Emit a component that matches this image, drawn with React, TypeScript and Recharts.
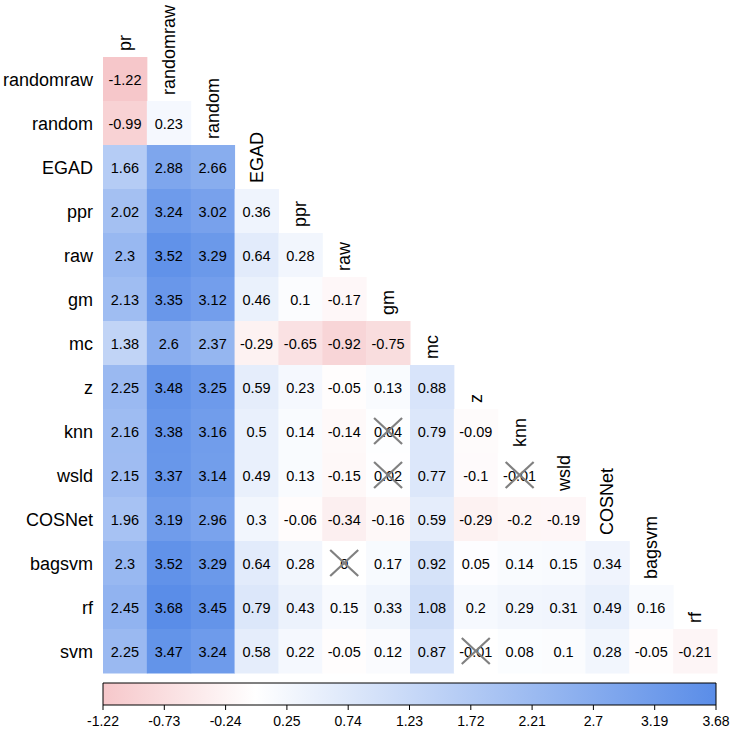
import React from 'react';
import { ScatterChart, Scatter, XAxis, YAxis, ReferenceArea } from 'recharts';

const ROWS = ['randomraw', 'random', 'EGAD', 'ppr', 'raw', 'gm', 'mc', 'z', 'knn', 'wsld', 'COSNet', 'bagsvm', 'rf', 'svm'];
const COLS = ['pr', 'randomraw', 'random', 'EGAD', 'ppr', 'raw', 'gm', 'mc', 'z', 'knn', 'wsld', 'COSNet', 'bagsvm', 'rf'];

const ROW_randomraw = [-1.22];
const ROW_random = [-0.99, 0.23];
const ROW_EGAD = [1.66, 2.88, 2.66];
const ROW_ppr = [2.02, 3.24, 3.02, 0.36];
const ROW_raw = [2.3, 3.52, 3.29, 0.64, 0.28];
const ROW_gm = [2.13, 3.35, 3.12, 0.46, 0.1, -0.17];
const ROW_mc = [1.38, 2.6, 2.37, -0.29, -0.65, -0.92, -0.75];
const ROW_z = [2.25, 3.48, 3.25, 0.59, 0.23, -0.05, 0.13, 0.88];
const ROW_knn = [2.16, 3.38, 3.16, 0.5, 0.14, -0.14, 0.04, 0.79, -0.09];
const ROW_wsld = [2.15, 3.37, 3.14, 0.49, 0.13, -0.15, 0.02, 0.77, -0.1, -0.01];
const ROW_COSNet = [1.96, 3.19, 2.96, 0.3, -0.06, -0.34, -0.16, 0.59, -0.29, -0.2, -0.19];
const ROW_bagsvm = [2.3, 3.52, 3.29, 0.64, 0.28, 0, 0.17, 0.92, 0.05, 0.14, 0.15, 0.34];
const ROW_rf = [2.45, 3.68, 3.45, 0.79, 0.43, 0.15, 0.33, 1.08, 0.2, 0.29, 0.31, 0.49, 0.16];
const ROW_svm = [2.25, 3.47, 3.24, 0.58, 0.22, -0.05, 0.12, 0.87, -0.01, 0.08, 0.1, 0.28, -0.05, -0.21];

const VALUES = [ROW_randomraw, ROW_random, ROW_EGAD, ROW_ppr, ROW_raw, ROW_gm, ROW_mc, ROW_z, ROW_knn, ROW_wsld, ROW_COSNet, ROW_bagsvm, ROW_rf, ROW_svm];

// [row, column] pairs marked as not significant
const NONSIG = [['knn', 'gm'], ['wsld', 'gm'], ['bagsvm', 'raw'], ['wsld', 'knn'], ['svm', 'z']];

const CB_TICKS = [-1.22, -0.73, -0.24, 0.25, 0.74, 1.23, 1.72, 2.21, 2.7, 3.19, 3.68];
const V_MIN = -1.22;
const V_MAX = 3.68;

const FONT = '"Liberation Sans", Arial, Helvetica, sans-serif';
const W = 733;
const MAIN_H = 680;
const M_TOP = 57;
const M_RIGHT = 16;
const M_BOTTOM = 7;
const Y_W = 103;
const PLOT_W = W - Y_W - M_RIGHT;
const PLOT_H = MAIN_H - M_TOP - M_BOTTOM;
const CELL_W = PLOT_W / COLS.length;
const CELL_H = PLOT_H / ROWS.length;

const LOW = [246, 199, 202];
const MID = [255, 255, 255];
const HIGH = [90, 141, 232];

function mix(a: number[], b: number[], t: number) {
  const c = a.map((v, i) => Math.round(v + (b[i] - v) * t));
  return `rgb(${c[0]},${c[1]},${c[2]})`;
}
function colorOf(v: number) {
  if (v < 0) return mix(MID, LOW, v / V_MIN);
  return mix(MID, HIGH, v / V_MAX);
}

const cellData: any[] = [];
VALUES.forEach((row, i) => {
  row.forEach((v, j) => {
    const ns = NONSIG.some(([r, c]) => r === ROWS[i] && c === COLS[j]);
    cellData.push({ x: j + 0.5, y: i + 0.5, v, ns });
  });
});

const colLabelData = COLS.map((name, j) => ({ x: j + 0.5, y: j, name }));
const cbData = CB_TICKS.map((t) => ({ x: t, y: 0.5 }));

const CellShape = (p: any) => {
  const { cx, cy, payload } = p;
  if (cx == null || cy == null) return <g />;
  return (
    <g>
      <rect x={cx - CELL_W / 2} y={cy - CELL_H / 2} width={CELL_W + 0.5} height={CELL_H + 0.5} fill={colorOf(payload.v)} />
      <text x={cx} y={cy + 1} textAnchor="middle" dominantBaseline="central" fontSize={14.5} fontFamily={FONT} fill="#000">
        {String(payload.v)}
      </text>
      {payload.ns && (
        <g stroke="#808080" strokeWidth={2.2}>
          <line x1={cx - 14} y1={cy - 13} x2={cx + 14} y2={cy + 13} />
          <line x1={cx - 14} y1={cy + 13} x2={cx + 14} y2={cy - 13} />
        </g>
      )}
    </g>
  );
};

const ColLabelShape = (p: any) => {
  const { cx, cy, payload } = p;
  if (cx == null || cy == null) return <g />;
  const y = cy - 6;
  return (
    <text x={cx} y={y} transform={`rotate(-90 ${cx} ${y})`} textAnchor="start" dominantBaseline="central" fontSize={18} fontFamily={FONT} fill="#000">
      {payload.name}
    </text>
  );
};

export default function App() {
  const rowTicks = ROWS.map((_, i) => i + 0.5);
  return (
    <div style={{ position: 'absolute', left: 0, top: 0, width: W, height: 741, background: '#fff', fontFamily: FONT }}>
      <div style={{ position: 'absolute', left: 0, top: 0 }}>
        <ScatterChart width={W} height={MAIN_H} margin={{ top: M_TOP, right: M_RIGHT, bottom: M_BOTTOM, left: 0 }}>
          <XAxis type="number" dataKey="x" domain={[0, COLS.length]} hide />
          <YAxis
            type="number"
            dataKey="y"
            domain={[0, ROWS.length]}
            reversed
            width={Y_W}
            ticks={rowTicks}
            interval={0}
            tickFormatter={(v: number) => ROWS[Math.floor(v)]}
            axisLine={false}
            tickLine={false}
            tickSize={0}
            tickMargin={10}
            tick={{ fill: '#000', fontSize: 18, fontFamily: FONT, dy: 1 }}
          />
          <Scatter data={cellData} isAnimationActive={false} shape={CellShape} />
          <Scatter data={colLabelData} isAnimationActive={false} shape={ColLabelShape} />
        </ScatterChart>
      </div>
      <div style={{ position: 'absolute', left: 0, top: 670 }}>
        <ScatterChart width={W} height={71} margin={{ top: 13, right: 17, bottom: 0, left: 103 }}>
          <defs>
            <linearGradient id="cbGrad" x1="0" y1="0" x2="1" y2="0">
              <stop offset="0" stopColor={colorOf(V_MIN)} />
              <stop offset={(0 - V_MIN) / (V_MAX - V_MIN)} stopColor={colorOf(0)} />
              <stop offset="1" stopColor={colorOf(V_MAX)} />
            </linearGradient>
          </defs>
          <XAxis
            type="number"
            dataKey="x"
            domain={[V_MIN, V_MAX]}
            ticks={CB_TICKS}
            interval={0}
            height={36}
            axisLine={false}
            tickLine={{ stroke: '#000' }}
            tickSize={5}
            tickMargin={6}
            tickFormatter={(v: number) => String(v)}
            tick={{ fill: '#000', fontSize: 14, fontFamily: FONT }}
          />
          <YAxis type="number" dataKey="y" domain={[0, 1]} hide />
          <ReferenceArea x1={V_MIN} x2={V_MAX} y1={0} y2={1} fill="url(#cbGrad)" fillOpacity={1} stroke="#000" strokeWidth={1} strokeOpacity={1} />
          <Scatter data={cbData} isAnimationActive={false} shape={() => <g />} />
        </ScatterChart>
      </div>
    </div>
  );
}
